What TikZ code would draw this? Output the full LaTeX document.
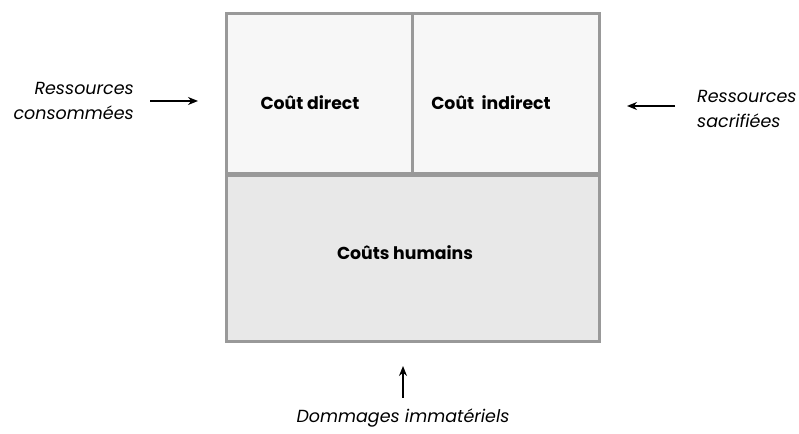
\documentclass[tikz,border=0pt]{standalone}
\usepackage{fontspec}
\setmainfont{Poppins}
\usepackage{xcolor}
\usetikzlibrary{arrows.meta}
\definecolor{rim}{HTML}{999999}
\definecolor{paleA}{HTML}{F7F7F7}
\definecolor{paleB}{HTML}{E8E8E8}

\begin{document}
\begin{tikzpicture}[x=1pt,y=1pt]
\tikzstyle{cell} = [draw=rim, line width=3pt, inner sep=0pt, font=\bfseries\fontsize{17.3}{20}\selectfont]
\tikzstyle{lab} = [inner sep=0pt, font=\itshape\fontsize{17.5}{25}\selectfont]
\tikzstyle{arr} = [-{Stealth[length=10pt,width=8pt]}, line width=1.6pt]
\useasboundingbox (0,0) rectangle (799,433);
\node [cell, fill=paleA, minimum width=186pt, minimum height=160pt] (direct) at (319,339) {};
\node [cell, fill=paleA, minimum width=187pt, minimum height=160pt] (indirect) at (505.5,339) {};
\node [cell, fill=paleB, minimum width=373pt, minimum height=166pt] (humains) at (412.5,174) {};
\node [cell, draw=none] (tdirect) at (310,330) {Coût direct};
\node [cell, draw=none] (tindirect) at (491,330) {Coût\ \ indirect};
\node [cell, draw=none] (thumains) at (405,180) {Coûts humains};
\node [lab, align=right, anchor=east] (conso) at (134,332) {Ressources\\consommées};
\node [lab, align=left, anchor=west] (sacri) at (697,324) {Ressources\\sacrifiées};
\node [lab] (dommages) at (403,15) {Dommages immatériels};
\coordinate (c1) at (150,332);
\coordinate (c2) at (198,332);
\coordinate (s1) at (675,327);
\coordinate (s2) at (627,327);
\coordinate (d1) at (403,35);
\coordinate (d2) at (403,67);
\draw [arr] (c1) -- (c2);
\draw [arr] (s1) -- (s2);
\draw [arr] (d1) -- (d2);
\end{tikzpicture}
\end{document}
